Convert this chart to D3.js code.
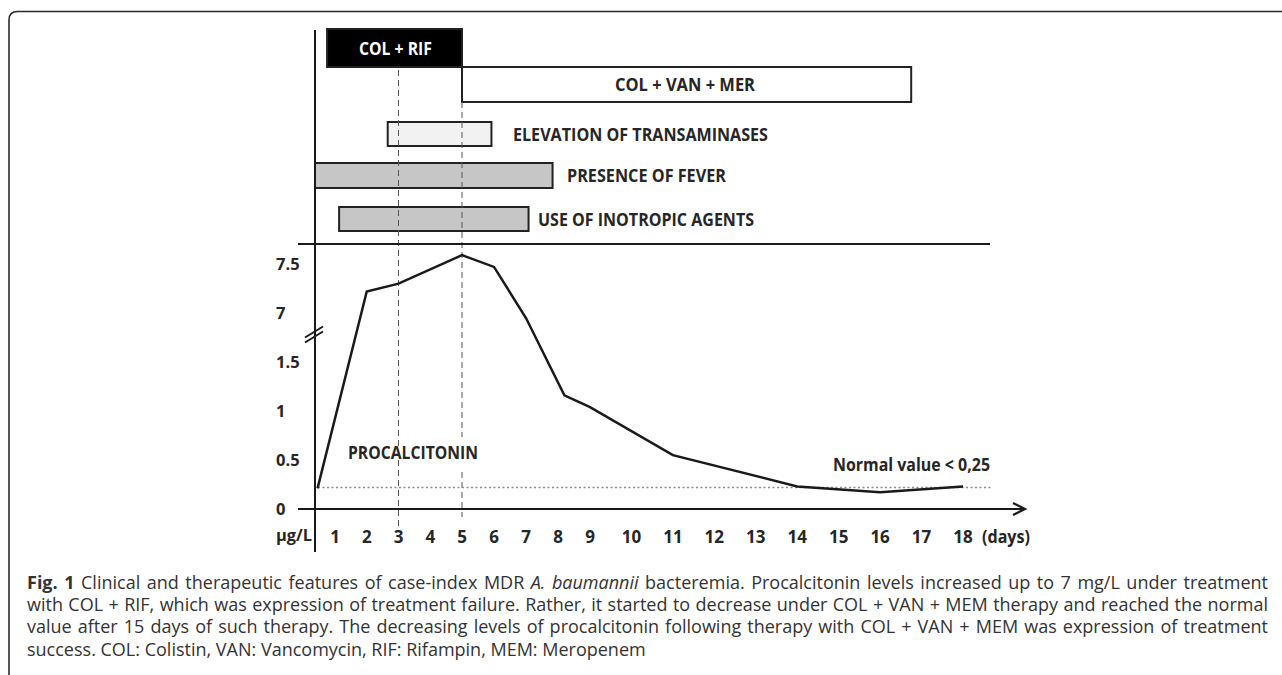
<!DOCTYPE html>
<html>
<head>
<meta charset="utf-8">
<script src="https://cdn.jsdelivr.net/npm/d3@7"></script>
<style>
  html, body { margin: 0; padding: 0; background: #fff; }
  svg { display: block; }
  .lbl { font-family: "Open Sans", sans-serif; font-weight: 700; fill: #262626; }
  .cap { font-family: "Open Sans", sans-serif; font-size: 18px; fill: #333; }
</style>
</head>
<body>
<svg id="chart" width="1282" height="675"></svg>
<script>
// ---- data ----
const dayTicks = d3.range(1, 19);
const yTickValues = [0, 0.5, 1, 1.5, 7, 7.5];
const yTickLabels = ["0", "0.5", "1", "1.5", "7", "7.5"];

// procalcitonin (µg/L) by day
const pctDays = [0.45, 2, 3, 5, 6, 7, 8.2, 9, 11, 14, 16, 18];
const pctValues = [0.21, 7.22, 7.30, 7.59, 7.47, 6.44, 1.16, 1.04, 0.55, 0.23, 0.17, 0.23];
const normalValue = 0.22;
const markerDays = [3, 5];

// timeline bars (start/end in days)
const barNames = ["COL + RIF", "COL + VAN + MER", "ELEVATION OF TRANSAMINASES", "PRESENCE OF FEVER", "USE OF INOTROPIC AGENTS"];
const barStart = [0.75, 5, 2.66, 0.37, 1.13];
const barEnd = [5, 16.75, 5.92, 7.83, 7.08];

const captionLines = [
  [["Fig. 1", "b"], [" Clinical and therapeutic features of case-index MDR ", ""], ["A. baumannii", "i"], [" bacteremia. Procalcitonin levels increased up to 7 mg/L under treatment", ""]],
  [["with COL + RIF, which was expression of treatment failure. Rather, it started to decrease under COL + VAN + MEM therapy and reached the normal", ""]],
  [["value after 15 days of such therapy. The decreasing levels of procalcitonin following therapy with COL + VAN + MEM was expression of treatment", ""]],
  [["success. COL: Colistin, VAN: Vancomycin, RIF: Rifampin, MEM: Meropenem", ""]]
];

// ---- layout ----
const svg = d3.select("#chart");

// x: days 1-9 are packed tighter than 9-18 in the original
const x = d3.scaleLinear().domain([1, 5, 9, 18]).range([335, 462, 590, 963]);
// y: broken axis between 1.5 and 7
const y = d3.scaleLinear().domain([0, 1.5, 7, 7.5]).range([509, 362, 313, 264]);

// row layout for the timeline bars
const rowTop = d3.scaleOrdinal().domain(barNames).range([29, 67, 122, 163, 207]);
const rowH = d3.scaleOrdinal().domain(barNames).range([38, 35, 24, 25, 24]);
const rowFill = d3.scaleOrdinal().domain(barNames).range(["#000", "#fff", "#f2f2f2", "#c6c6c6", "#c6c6c6"]);

// figure frame (top + left with rounded corner)
svg.append("path")
  .attr("d", "M9,675 V20 Q9,11.5 17.5,11.5 H1282")
  .attr("fill", "none")
  .attr("stroke", "#2b2b2b")
  .attr("stroke-width", 1.6);

// timeline bars
const bars = barNames.map((name, i) => ({ name, start: barStart[i], end: barEnd[i] }));
svg.selectAll("rect.bar")
  .data(bars)
  .enter().append("rect")
  .attr("class", "bar")
  .attr("x", d => x(d.start))
  .attr("y", d => rowTop(d.name))
  .attr("width", d => x(d.end) - x(d.start))
  .attr("height", d => rowH(d.name))
  .attr("fill", d => rowFill(d.name))
  .attr("stroke", "#222")
  .attr("stroke-width", 2);

// bar labels: first two inside, rest to the right
const labelWidths = { "COL + RIF": 73, "COL + VAN + MER": 140, "ELEVATION OF TRANSAMINASES": 255, "PRESENCE OF FEVER": 159, "USE OF INOTROPIC AGENTS": 216 };
const labelStart = { "COL + RIF": 359, "COL + VAN + MER": 615, "ELEVATION OF TRANSAMINASES": 513, "PRESENCE OF FEVER": 567, "USE OF INOTROPIC AGENTS": 538 };
svg.selectAll("text.barlbl")
  .data(bars)
  .enter().append("text")
  .attr("class", "lbl barlbl")
  .attr("x", d => labelStart[d.name])
  .attr("y", d => rowTop(d.name) + rowH(d.name) / 2 + 6.5)
  .attr("font-size", 17.5)
  .attr("textLength", d => labelWidths[d.name])
  .attr("lengthAdjust", "spacingAndGlyphs")
  .style("fill", d => d.name === "COL + RIF" ? "#fff" : "#262626")
  .text(d => d.name);

// dashed day markers
svg.selectAll("line.marker")
  .data(markerDays)
  .enter().append("line")
  .attr("class", "marker")
  .attr("x1", d => x(d)).attr("x2", d => x(d))
  .attr("y1", d => d === 5 ? 102 : 70)
  .attr("y2", d => d === 5 ? 517 : 531)
  .attr("stroke", "#555")
  .attr("stroke-width", 1)
  .attr("stroke-dasharray", "6,4");

// the day-5 marker is interrupted where the PROCALCITONIN label sits
svg.append("rect")
  .attr("x", x(5) - 3).attr("y", 437)
  .attr("width", 6).attr("height", 35)
  .attr("fill", "#fff");

// separator between timeline and chart
svg.append("line")
  .attr("x1", 298).attr("x2", 990)
  .attr("y1", 244).attr("y2", 244)
  .attr("stroke", "#1a1a1a").attr("stroke-width", 2);

// y axis line
svg.append("line")
  .attr("x1", 315).attr("x2", 315)
  .attr("y1", 30).attr("y2", 552)
  .attr("stroke", "#1a1a1a").attr("stroke-width", 2);

// axis break marks
const brk = (y(1.5) + y(7)) / 2 - 6;
[0, 5].forEach(off => {
  svg.append("line")
    .attr("x1", 305).attr("y1", brk + 6 + off)
    .attr("x2", 323).attr("y2", brk - 5 + off)
    .attr("stroke", "#1a1a1a").attr("stroke-width", 2);
});

// x axis with arrow
svg.append("line")
  .attr("x1", 298).attr("x2", 1024)
  .attr("y1", y(0)).attr("y2", y(0))
  .attr("stroke", "#1a1a1a").attr("stroke-width", 2);
svg.append("path")
  .attr("d", `M1013,${y(0) - 6} L1025,${y(0)} L1013,${y(0) + 6}`)
  .attr("fill", "none")
  .attr("stroke", "#1a1a1a").attr("stroke-width", 2.2);

// y tick labels
svg.selectAll("text.ytick")
  .data(yTickValues)
  .enter().append("text")
  .attr("class", "lbl ytick")
  .attr("x", 276)
  .attr("y", d => y(d) + 6)
  .attr("font-size", 16.5)
  .text((d, i) => yTickLabels[i]);

svg.append("text")
  .attr("class", "lbl")
  .attr("x", 276).attr("y", 541)
  .attr("font-size", 16.5)
  .attr("textLength", 36)
  .attr("lengthAdjust", "spacingAndGlyphs")
  .text("µg/L");

// x tick labels
svg.selectAll("text.xtick")
  .data(dayTicks)
  .enter().append("text")
  .attr("class", "lbl xtick")
  .attr("x", d => x(d))
  .attr("y", 543)
  .attr("text-anchor", "middle")
  .attr("font-size", 17)
  .text(d => d);

svg.append("text")
  .attr("class", "lbl")
  .attr("x", 982).attr("y", 543)
  .attr("font-size", 17)
  .attr("textLength", 48)
  .attr("lengthAdjust", "spacingAndGlyphs")
  .text("(days)");

// normal value reference line
svg.append("line")
  .attr("x1", 318).attr("x2", 993)
  .attr("y1", y(normalValue)).attr("y2", y(normalValue))
  .attr("stroke", "#8c8c8c")
  .attr("stroke-width", 1.5)
  .attr("stroke-dasharray", "2,2.5");

svg.append("text")
  .attr("class", "lbl")
  .attr("x", 833).attr("y", 471)
  .attr("font-size", 17)
  .attr("textLength", 157)
  .attr("lengthAdjust", "spacingAndGlyphs")
  .text("Normal value < 0,25");

// procalcitonin label
svg.append("text")
  .attr("class", "lbl")
  .attr("x", 348).attr("y", 459)
  .attr("font-size", 17)
  .attr("textLength", 130)
  .attr("lengthAdjust", "spacingAndGlyphs")
  .text("PROCALCITONIN");

// procalcitonin curve
const pts = pctDays.map((d, i) => ({ day: d, v: pctValues[i] }));
svg.append("path")
  .datum(pts)
  .attr("d", d3.line().x(d => x(d.day)).y(d => y(d.v)))
  .attr("fill", "none")
  .attr("stroke", "#1a1a1a")
  .attr("stroke-width", 2.5)
  .attr("stroke-linejoin", "miter");

// caption, justified like the journal layout
const capLeft = 27, capRight = 1268;
const capY = [589, 611, 633, 656];
captionLines.forEach((runs, i) => {
  const t = svg.append("text")
    .attr("class", "cap")
    .attr("x", capLeft)
    .attr("y", capY[i]);
  runs.forEach(([txt, st]) => {
    t.append("tspan")
      .attr("font-weight", st === "b" ? 700 : null)
      .attr("font-style", st === "i" ? "italic" : null)
      .text(txt);
  });
  if (i < captionLines.length - 1) {
    const natural = t.node().getComputedTextLength();
    const full = runs.map(r => r[0]).join("");
    const spaces = (full.match(/ /g) || []).length;
    t.attr("word-spacing", ((capRight - capLeft) - natural) / spaces);
  }
});
</script>
</body>
</html>
